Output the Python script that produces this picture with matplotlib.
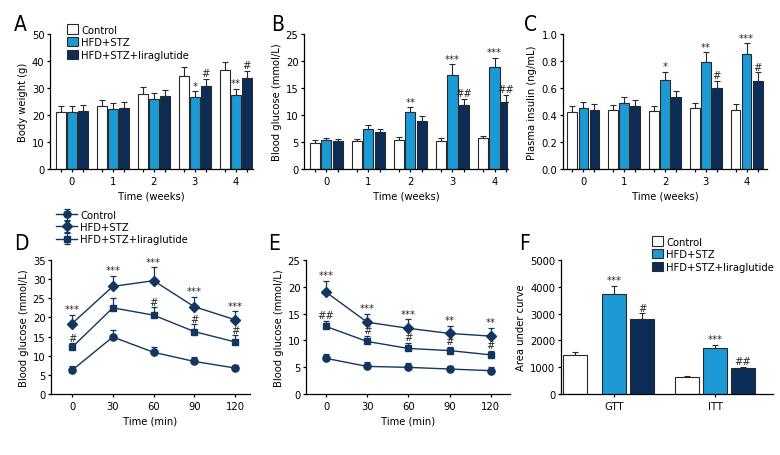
import numpy as np
import matplotlib.pyplot as plt

plt.rcParams['font.family'] = ['DejaVu Sans']
plt.rcParams['font.stretch'] = 'condensed'
plt.rcParams['font.size'] = 8
plt.rcParams['axes.linewidth'] = 0.9
plt.rcParams['xtick.major.size'] = 2.5
plt.rcParams['ytick.major.size'] = 2.5
plt.rcParams['xtick.minor.size'] = 2.5
plt.rcParams['xtick.major.pad'] = 2.5
plt.rcParams['ytick.major.pad'] = 1.5

WHITE = '#ffffff'
LIGHT = '#1c9ad6'
DARK = '#0b2d57'
LINE = '#12365f'

groups = ['Control', 'HFD+STZ', 'HFD+STZ+liraglutide']
weeks = [0, 1, 2, 3, 4]
minutes = [0, 30, 60, 90, 120]

# A - body weight (g)
bw_ctrl = [21.0, 23.2, 27.8, 34.3, 36.7]
bw_hfd = [21.0, 22.1, 25.9, 26.8, 27.4]
bw_lira = [21.5, 22.7, 26.9, 30.6, 33.8]
bw_ctrl_err = [2.2, 2.2, 2.6, 3.4, 2.8]
bw_hfd_err = [2.2, 2.3, 2.2, 2.0, 2.2]
bw_lira_err = [2.2, 2.0, 2.5, 2.7, 2.6]
bw_sig_hfd = ['', '', '', '*', '**']
bw_sig_lira = ['', '', '', '#', '#']

# B - blood glucose (mmol/L)
bg_ctrl = [4.9, 5.1, 5.4, 5.25, 5.7]
bg_hfd = [5.3, 7.4, 10.5, 17.5, 18.8]
bg_lira = [5.1, 6.8, 8.95, 11.85, 12.5]
bg_ctrl_err = [0.5, 0.45, 0.5, 0.45, 0.5]
bg_hfd_err = [0.45, 0.8, 0.9, 1.9, 1.8]
bg_lira_err = [0.45, 0.6, 0.8, 1.15, 1.2]
bg_sig_hfd = ['', '', '**', '***', '***']
bg_sig_lira = ['', '', '', '##', '##']

# C - plasma insulin (ng/mL)
ins_ctrl = [0.425, 0.437, 0.43, 0.45, 0.44]
ins_hfd = [0.45, 0.486, 0.66, 0.79, 0.85]
ins_lira = [0.44, 0.47, 0.53, 0.6, 0.655]
ins_ctrl_err = [0.045, 0.035, 0.04, 0.04, 0.04]
ins_hfd_err = [0.045, 0.045, 0.06, 0.075, 0.08]
ins_lira_err = [0.04, 0.04, 0.05, 0.055, 0.06]
ins_sig_hfd = ['', '', '*', '**', '***']
ins_sig_lira = ['', '', '', '#', '#']

# D - GTT
gtt_ctrl = [6.2, 14.9, 10.9, 8.5, 6.8]
gtt_hfd = [18.4, 28.1, 29.6, 22.8, 19.4]
gtt_lira = [12.2, 22.5, 20.6, 16.3, 13.6]
gtt_ctrl_err = [1.0, 1.7, 1.5, 1.1, 0.8]
gtt_hfd_err = [2.3, 2.8, 3.5, 2.6, 2.2]
gtt_lira_err = [1.0, 2.5, 2.0, 1.9, 1.7]
gtt_sig_hfd = ['***', '***', '***', '***', '***']
gtt_sig_lira = ['#', '', '#', '#', '#']

# E - ITT
itt_ctrl = [6.65, 5.15, 4.97, 4.66, 4.35]
itt_hfd = [19.0, 13.4, 12.25, 11.3, 10.8]
itt_lira = [12.6, 9.8, 8.5, 8.1, 7.3]
itt_ctrl_err = [0.8, 0.75, 0.75, 0.65, 0.65]
itt_hfd_err = [2.1, 1.6, 1.65, 1.4, 1.5]
itt_lira_err = [1.1, 1.1, 1.1, 0.7, 0.8]
itt_sig_hfd = ['***', '***', '***', '**', '**']
itt_sig_lira = ['##', '#', '#', '#', '#']

# F - area under curve
auc_tests = ['GTT', 'ITT']
auc_ctrl = [1468, 622]
auc_hfd = [3731, 1704]
auc_lira = [2798, 958]
auc_ctrl_err = [112, 62]
auc_hfd_err = [311, 136]
auc_lira_err = [212, 62]
auc_sig_hfd = ['***', '***']
auc_sig_lira = ['#', '##']

W, H = 780, 456
fig = plt.figure(figsize=(W / 100, H / 100), dpi=100)


def rect(l, t, r, b):
    return [l / W, 1 - b / H, (r - l) / W, (b - t) / H]


def style(ax):
    ax.spines['top'].set_visible(False)
    ax.spines['right'].set_visible(False)
    ax.tick_params(direction='out', width=0.9, which='both')


def bar_panel(ax, cats, means, errs, sigs, offsets, width, ylim, yticks, ylabel, xlabel, fmt):
    colors = [WHITE, LIGHT, DARK]
    x = np.arange(len(cats))
    for i in range(3):
        xi = x + np.asarray(offsets[i])
        ax.bar(xi, means[i], width, color=colors[i], edgecolor='#2a2a2a', linewidth=0.8, zorder=2)
        ax.errorbar(xi, means[i], yerr=[np.zeros(len(x)), errs[i]], fmt='none',
                    ecolor='#2a2a2a', elinewidth=0.8, capsize=2.2, capthick=0.8, zorder=1)
        if sigs[i] is not None:
            for xx, m, e, s in zip(xi, means[i], errs[i], sigs[i]):
                if s:
                    ax.annotate(s, (xx, m + e), xytext=(0, 0.5), textcoords='offset points',
                                ha='center', va='bottom', fontsize=8, color='#222222')
    ax.set_ylim(*ylim)
    ax.set_yticks(yticks)
    ax.set_yticklabels([fmt % v for v in yticks])
    ax.set_xticks(x)
    ax.set_xticklabels(cats)
    ax.set_ylabel(ylabel, labelpad=3)
    if xlabel:
        ax.set_xlabel(xlabel, labelpad=3.5)
    style(ax)


def line_panel(ax, means, errs, sigs, ylim, yticks, xlim):
    markers = ['o', 'D', 's']
    sizes = [5.2, 5, 4.8]
    for i in range(3):
        ax.errorbar(minutes, means[i], yerr=[np.zeros(5), errs[i]], fmt='-', marker=markers[i],
                    ms=sizes[i], color=LINE, lw=1.0, elinewidth=0.9, capsize=2.2, capthick=0.9,
                    label=groups[i])
        if sigs[i] is not None:
            for xx, m, e, s in zip(minutes, means[i], errs[i], sigs[i]):
                if s:
                    ax.annotate(s, (xx, m + e), xytext=(0, 0.5), textcoords='offset points',
                                ha='center', va='bottom', fontsize=8, color='#222222')
    ax.set_ylim(*ylim)
    ax.set_yticks(yticks)
    ax.set_xlim(*xlim)
    ax.set_xticks(minutes)
    ax.set_ylabel('Blood glucose (mmol/L)', labelpad=3)
    ax.set_xlabel('Time (min)', labelpad=3.5)
    style(ax)


offs = [-0.27, 0.0, 0.27]

axA = fig.add_axes(rect(50, 35, 253, 170))
bar_panel(axA, weeks, [bw_ctrl, bw_hfd, bw_lira], [bw_ctrl_err, bw_hfd_err, bw_lira_err],
          [None, bw_sig_hfd, bw_sig_lira], offs, 0.24, (0, 50), [0, 10, 20, 30, 40, 50],
          'Body weight (g)', 'Time (weeks)', '%d')
axA.set_xlim(-0.53, 4.42)

axB = fig.add_axes(rect(304, 35, 508, 170))
bar_panel(axB, weeks, [bg_ctrl, bg_hfd, bg_lira], [bg_ctrl_err, bg_hfd_err, bg_lira_err],
          [None, bg_sig_hfd, bg_sig_lira], offs, 0.24, (0, 25), [0, 5, 10, 15, 20, 25],
          'Blood glucose (mmol/L)', 'Time (weeks)', '%d')
axB.set_xlim(-0.53, 4.32)

axC = fig.add_axes(rect(563, 35, 767, 170))
bar_panel(axC, weeks, [ins_ctrl, ins_hfd, ins_lira], [ins_ctrl_err, ins_hfd_err, ins_lira_err],
          [None, ins_sig_hfd, ins_sig_lira], offs, 0.24, (0, 1.0), [0, 0.2, 0.4, 0.6, 0.8, 1.0],
          'Plasma insulin (ng/mL)', 'Time (weeks)', '%.1f')
axC.set_xlim(-0.5, 4.5)

for ax in (axA, axB, axC):
    ax.set_xticks([w + o for w in weeks for o in (offs[0], offs[2])], minor=True)

axD = fig.add_axes(rect(51, 261, 250, 395))
line_panel(axD, [gtt_ctrl, gtt_hfd, gtt_lira], [gtt_ctrl_err, gtt_hfd_err, gtt_lira_err],
           [None, gtt_sig_hfd, gtt_sig_lira], (0, 35), [0, 5, 10, 15, 20, 25, 30, 35], (-15.5, 131))

axE = fig.add_axes(rect(306, 261, 510, 395))
line_panel(axE, [itt_ctrl, itt_hfd, itt_lira], [itt_ctrl_err, itt_hfd_err, itt_lira_err],
           [None, itt_sig_hfd, itt_sig_lira], (0, 25), [0, 5, 10, 15, 20, 25], (-14.6, 134))

# in F the GTT control bar sits a little further left than the ITT one
offsF = [[-0.386, -0.277], [0.0, 0.0], [0.277, 0.277]]
axF = fig.add_axes(rect(561, 261, 773, 395))
bar_panel(axF, auc_tests, [auc_ctrl, auc_hfd, auc_lira], [auc_ctrl_err, auc_hfd_err, auc_lira_err],
          [None, auc_sig_hfd, auc_sig_lira], offsF, 0.238, (0, 5000), [0, 1000, 2000, 3000, 4000, 5000],
          'Area under curve', None, '%d')
axF.set_xlim(-0.525, 1.574)

# legends
sq = dict(handlelength=0.95, handleheight=0.95, handletextpad=0.3, labelspacing=0.2,
          frameon=False, borderpad=0, borderaxespad=0, fontsize=8)
hA = [plt.Rectangle((0, 0), 1, 1, facecolor=c, edgecolor='#2a2a2a', linewidth=0.8)
      for c in (WHITE, LIGHT, DARK)]
fig.legend(hA, groups, loc='upper left', bbox_to_anchor=(67 / W, 1 - 25 / H), **sq)
fig.legend(hA, groups, loc='upper left', bbox_to_anchor=(652 / W, 1 - 237 / H), **sq)
fig.legend(*axD.get_legend_handles_labels(), loc='upper left',
           bbox_to_anchor=(56 / W, 1 - 211 / H), handlelength=1.9, handletextpad=0.3,
           labelspacing=0.2, frameon=False, borderpad=0, borderaxespad=0, fontsize=8)

# panel letters
for letter, x, y in [('A', 14, 31), ('B', 271, 31), ('C', 524, 31),
                     ('D', 14, 250), ('E', 268, 250), ('F', 519, 250)]:
    fig.text(x / W, 1 - y / H, letter, fontsize=15, ha='left', va='baseline')

fig.savefig('out.png', dpi=100)
